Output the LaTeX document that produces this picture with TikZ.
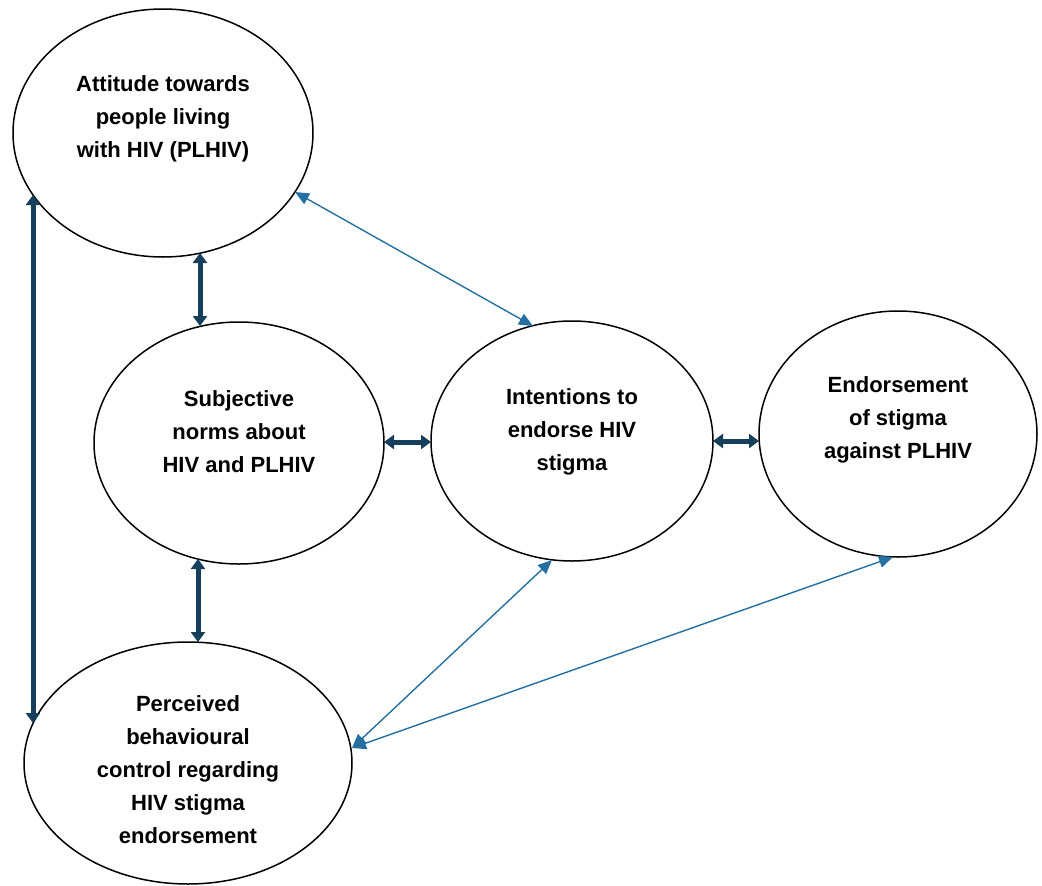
\documentclass[tikz,border=0pt]{standalone}
\usepackage{fontspec}
\setmainfont{Liberation Sans}
\usetikzlibrary{shapes.geometric,arrows.meta,calc}
\definecolor{thickc}{HTML}{163F5C}
\definecolor{thinc}{HTML}{2470A0}
\begin{document}
\begin{tikzpicture}[x=1pt,y=-1pt,
  oval/.style={ellipse,draw=black,line width=1.5pt,inner sep=0pt},
  lbl/.style={align=center,font=\fontsize{22}{33}\selectfont\bfseries},
  bold arrow/.style={draw=thickc,line width=5pt,{Triangle[length=10pt,width=14pt]}-{Triangle[length=10pt,width=14pt]}},
  thin arrow/.style={draw=thinc,line width=1.4pt,{Triangle[length=14pt,width=12pt]}-{Triangle[length=14pt,width=12pt]}}]
\useasboundingbox (0,0) rectangle (1042,886);
% ellipses
\node[oval,minimum width=300pt,minimum height=248pt] (A) at (163,133) {};
\node[oval,minimum width=290pt,minimum height=242pt] (S) at (239,443) {};
\node[oval,minimum width=282pt,minimum height=240pt] (I) at (572,441) {};
\node[oval,minimum width=278pt,minimum height=246pt] (E) at (898,434) {};
\node[oval,minimum width=328pt,minimum height=242pt] (P) at (188,763) {};
% labels
\node[lbl] (At) at (163,119) {Attitude towards\\people living\\with HIV (PLHIV)};
\node[lbl] (St) at (239,432) {Subjective\\norms about\\HIV and PLHIV};
\node[lbl] (It) at (572,432) {Intentions to\\endorse HIV\\stigma};
\node[lbl] (Et) at (898,420) {Endorsement\\of stigma\\against PLHIV};
\node[lbl] (Pt) at (188,770) {Perceived\\behavioural\\control regarding\\HIV stigma\\endorsement};
% thick connectors
\draw[bold arrow] ($(A.center)+(37,120)$) -- ($(S.center)+(-39,-117)$);
\draw[bold arrow] ($(S.center)+(-41,116)$) -- ($(P.center)+(10,-121)$);
\draw[bold arrow] ($(A.center)+(-130,62)$) -- ($(P.center)+(-155,-40)$);
\draw[bold arrow] ($(S.center)+(145,-1)$) -- ($(I.center)+(-141,1)$);
\draw[bold arrow] ($(I.center)+(141,0)$) -- ($(E.center)+(-139,7)$);
% thin connectors
\draw[thin arrow] ($(A.center)+(132,59)$) -- ($(I.center)+(-39,-115)$);
\draw[thin arrow] ($(P.center)+(164,-15)$) -- ($(I.center)+(-20,119)$);
\draw[thin arrow] ($(P.center)+(164,-15)$) -- ($(E.center)+(-5,123)$);
\end{tikzpicture}
\end{document}
